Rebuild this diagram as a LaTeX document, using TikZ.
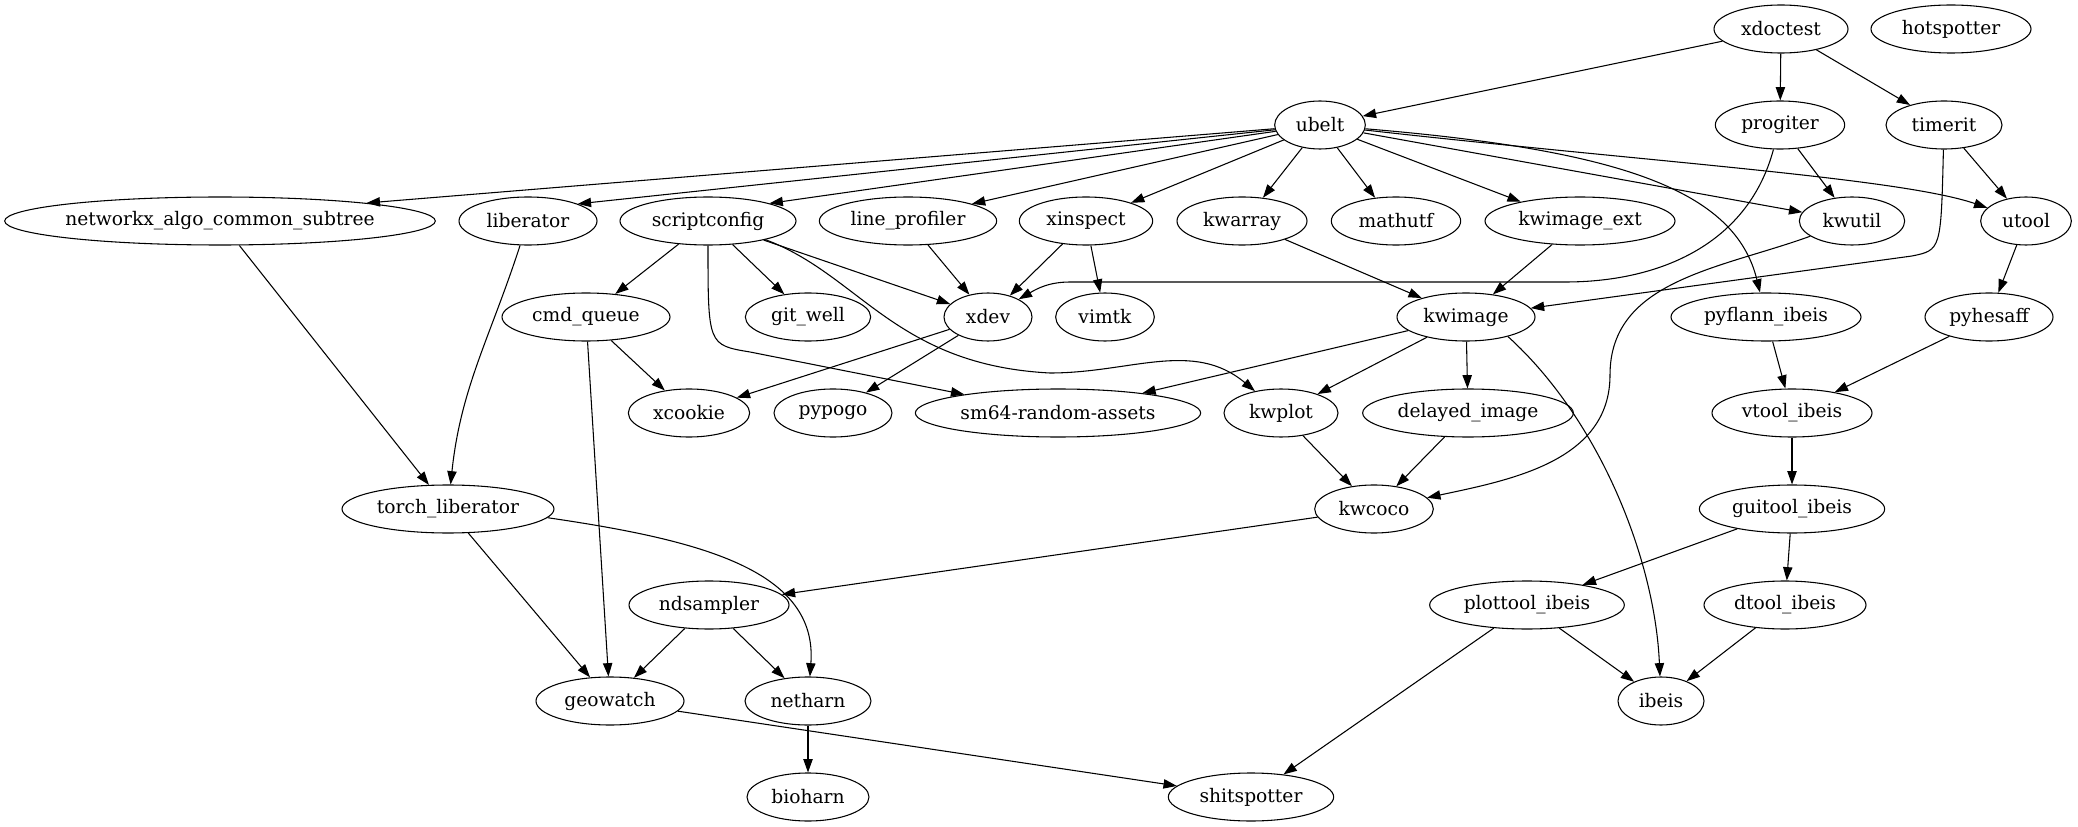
\documentclass[tikz,border=0pt]{standalone}
\usepackage{fontspec}
\setmainfont{DejaVu Serif}
\usetikzlibrary{shapes.geometric,arrows.meta}

\begin{document}
\begin{tikzpicture}[x=0.75pt,y=-0.75pt]
		\tikzstyle{pkg}=[draw=black, line width=0.8pt, ellipse, minimum height=36pt, inner xsep=-20pt, inner ysep=0pt, font=\fontsize{14}{17}\selectfont]
		\tikzstyle{dep}=[black, line width=0.8pt, -{Triangle[length=10pt,width=7pt]}]
		\useasboundingbox (0,0) rectangle (2078,827);
		\node [pkg, minimum width=100.5pt] (xdoctest) at (1781,29) {xdoctest};
		\node [pkg, minimum width=120pt] (hotspotter) at (1951,29) {hotspotter};
		\node [pkg, minimum width=68pt] (ubelt) at (1320,125) {ubelt};
		\node [pkg, minimum width=97pt] (progiter) at (1780,125) {progiter};
		\node [pkg, minimum width=87pt] (timerit) at (1944,125) {timerit};
		\node [pkg, minimum width=323pt] (networkx) at (220,221) {networkx\_algo\_common\_subtree};
		\node [pkg, minimum width=103.5pt] (liberator) at (528,221) {liberator};
		\node [pkg, minimum width=132pt] (scriptconfig) at (708,221) {scriptconfig};
		\node [pkg, minimum width=133pt] (lineprofiler) at (908,221) {line\_profiler};
		\node [pkg, minimum width=100pt] (xinspect) at (1086,221) {xinspect};
		\node [pkg, minimum width=97.5pt] (kwarray) at (1242,221) {kwarray};
		\node [pkg, minimum width=97pt] (mathutf) at (1396,221) {mathutf};
		\node [pkg, minimum width=142.5pt] (kwimageext) at (1580,221) {kwimage\_ext};
		\node [pkg, minimum width=79pt] (kwutil) at (1852,221) {kwutil};
		\node [pkg, minimum width=68pt] (utool) at (2026,221) {utool};
		\node [pkg, minimum width=126pt] (cmdqueue) at (586,317) {cmd\_queue};
		\node [pkg, minimum width=94pt] (gitwell) at (808,317) {git\_well};
		\node [pkg, minimum width=66pt] (xdev) at (988,317) {xdev};
		\node [pkg, minimum width=74pt] (vimtk) at (1105,317) {vimtk};
		\node [pkg, minimum width=103.5pt] (kwimage) at (1466,317) {kwimage};
		\node [pkg, minimum width=142.5pt] (pyflann) at (1766,317) {pyflann\_ibeis};
		\node [pkg, minimum width=96pt] (pyhesaff) at (1989,317) {pyhesaff};
		\node [pkg, minimum width=91pt] (xcookie) at (689,413) {xcookie};
		\node [pkg, minimum width=88.5pt] (pypogo) at (833,413) {pypogo};
		\node [pkg, minimum width=214pt] (sm64) at (1058,413) {sm64-random-assets};
		\node [pkg, minimum width=85.5pt] (kwplot) at (1281,413) {kwplot};
		\node [pkg, minimum width=158pt] (delayedimage) at (1468,413) {delayed\_image};
		\node [pkg, minimum width=120pt] (vtool) at (1792,413) {vtool\_ibeis};
		\node [pkg, minimum width=159pt] (torchliberator) at (448,509) {torch\_liberator};
		\node [pkg, minimum width=89pt] (kwcoco) at (1374,509) {kwcoco};
		\node [pkg, minimum width=139pt] (guitool) at (1792,509) {guitool\_ibeis};
		\node [pkg, minimum width=120pt] (ndsampler) at (709,605) {ndsampler};
		\node [pkg, minimum width=146pt] (plottool) at (1527,605) {plottool\_ibeis};
		\node [pkg, minimum width=121.5pt] (dtool) at (1785,605) {dtool\_ibeis};
		\node [pkg, minimum width=111pt] (geowatch) at (610,701) {geowatch};
		\node [pkg, minimum width=94.5pt] (netharn) at (808,701) {netharn};
		\node [pkg, minimum width=64.5pt] (ibeis) at (1661,701) {ibeis};
		\node [pkg, minimum width=91.5pt] (bioharn) at (808,797) {bioharn};
		\node [pkg, minimum width=124pt] (shitspotter) at (1251,797) {shitspotter};
		\draw [dep] (xdoctest) -- (ubelt);
		\draw [dep] (xdoctest) -- (progiter);
		\draw [dep] (xdoctest) -- (timerit);
		\draw [dep] (ubelt) -- (networkx.7);
		\draw [dep] (ubelt) -- (liberator.19);
		\draw [dep] (ubelt) -- (scriptconfig.16);
		\draw [dep] (ubelt) -- (lineprofiler.15);
		\draw [dep] (ubelt) -- (xinspect.22);
		\draw [dep] (ubelt) -- (kwarray.48);
		\draw [dep] (ubelt) -- (mathutf.132);
		\draw [dep] (ubelt) -- (kwimageext.162);
		\draw [dep] (ubelt) -- (kwutil.170);
		\draw [dep] (ubelt) .. controls (1650,162) and (1900,178) .. (utool);
		\draw [dep] (ubelt) .. controls (1620,150) and (1735,190) .. (pyflann);
		\draw [dep] (progiter) -- (kwutil);
		\draw [dep] (progiter) to[out=-105,in=0] (1565,282) -- (1070,282) to[out=180,in=30] (xdev);
		\draw [dep] (timerit) -- (utool);
		\draw [dep] (timerit) .. controls (1941,250) .. (1912,256) -- (kwimage);
		\draw [dep] (scriptconfig) -- (cmdqueue);
		\draw [dep] (scriptconfig) -- (gitwell);
		\draw [dep] (scriptconfig) -- (xdev);
		\draw [dep] (scriptconfig) .. controls (708,345) .. (750,352) -- (sm64);
		\draw [dep] (scriptconfig.-18) .. controls (860,275) and (895,365) .. (1050,373) to[out=0,in=140] (kwplot);
		\draw [dep] (lineprofiler) -- (xdev);
		\draw [dep] (xinspect) -- (xdev);
		\draw [dep] (xinspect) -- (vimtk);
		\draw [dep] (kwarray) -- (kwimage);
		\draw [dep] (kwimageext) -- (kwimage);
		\draw [dep] (kwutil) to[out=-160,in=90] (1610,375) to[out=-90,in=12] (kwcoco);
		\draw [dep] (utool) -- (pyhesaff);
		\draw [dep] (networkx) -- (torchliberator);
		\draw [dep] (liberator) to[out=-108,in=84] (torchliberator);
		\draw [dep] (cmdqueue) -- (xcookie);
		\draw [dep] (cmdqueue) -- (geowatch);
		\draw [dep] (xdev) -- (xcookie);
		\draw [dep] (xdev) -- (pypogo);
		\draw [dep] (kwimage) -- (sm64);
		\draw [dep] (kwimage) -- (kwplot);
		\draw [dep] (kwimage) -- (delayedimage);
		\draw [dep] (kwimage.-25) .. controls (1600,420) and (1655,560) .. (ibeis);
		\draw [dep] (pyflann) -- (vtool);
		\draw [dep] (pyhesaff) -- (vtool);
		\draw [dep] (kwplot) -- (kwcoco);
		\draw [dep] (delayedimage) -- (kwcoco);
		\draw [dep] (vtool) -- (guitool);
		\draw [dep] (torchliberator) -- (geowatch);
		\draw [dep] (torchliberator.-5) .. controls (700,540) and (818,570) .. (netharn);
		\draw [dep] (kwcoco) -- (ndsampler);
		\draw [dep] (guitool) -- (plottool);
		\draw [dep] (guitool) -- (dtool);
		\draw [dep] (ndsampler) -- (geowatch);
		\draw [dep] (ndsampler) -- (netharn);
		\draw [dep] (plottool) -- (ibeis);
		\draw [dep] (plottool) -- (shitspotter);
		\draw [dep] (dtool) -- (ibeis);
		\draw [dep] (geowatch) -- (shitspotter);
		\draw [dep] (netharn) -- (bioharn);
\end{tikzpicture}
\end{document}
